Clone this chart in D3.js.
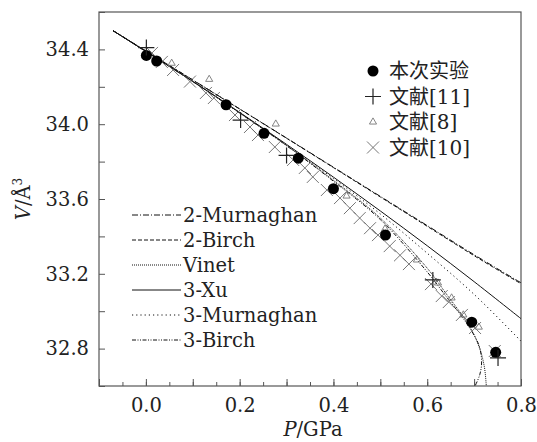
<!DOCTYPE html>
<html>
<head>
<meta charset="utf-8">
<script src="https://cdn.jsdelivr.net/npm/d3@7"></script>
<style>
  body { margin: 0; background: #fff; }
  text { font-family: "DejaVu Serif", "Liberation Serif", serif; fill: #222; }
  .cjk { font-family: "DejaVu Serif", "Noto Sans CJK SC", serif; }
</style>
</head>
<body>
<svg id="chart" width="537" height="442"></svg>
<script>
// tick values
const xTicks = [0.0, 0.2, 0.4, 0.6, 0.8],
    yTicks = [32.8, 33.2, 33.6, 34.0, 34.4];

// 本次实验 (filled circles)
const expP = [0.001, 0.023, 0.171, 0.252, 0.325, 0.400, 0.511, 0.695, 0.746],
    expV = [34.368, 34.338, 34.104, 33.951, 33.818, 33.655, 33.407, 32.941, 32.780];

// 文献[11] (plus)
const ref11P = [0.001, 0.202, 0.300, 0.612, 0.751],
    ref11V = [34.410, 34.022, 33.833, 33.167, 32.750];

// 文献[8] (triangles)
const ref8P = [0.055, 0.135, 0.277, 0.428, 0.510, 0.578, 0.623, 0.652, 0.677, 0.710, 0.749],
    ref8V = [34.326, 34.240, 34.001, 33.616, 33.440, 33.274, 33.151, 33.071, 32.980, 32.915, 32.787];

// 文献[10] (crosses)
const ref10P = [0.013, 0.034, 0.058, 0.094, 0.128, 0.145, 0.190, 0.222, 0.239, 0.275, 0.314, 0.339, 0.356,
        0.386, 0.414, 0.435, 0.456, 0.478, 0.495, 0.520, 0.542, 0.561, 0.608, 0.631, 0.646, 0.674, 0.702, 0.744],
    ref10V = [34.381, 34.333, 34.290, 34.228, 34.167, 34.140, 34.049, 33.985, 33.942, 33.878, 33.809, 33.766, 33.718,
        33.648, 33.605, 33.551, 33.498, 33.444, 33.407, 33.348, 33.299, 33.252, 33.145, 33.081, 33.049, 32.980, 32.910, 32.787];

// fitted curves, points
const murn2P = [-0.07, 0.1, 0.2, 0.3, 0.4, 0.5, 0.6, 0.7, 0.8],
    murn2V = [34.50, 34.237, 34.082, 33.926, 33.770, 33.614, 33.458, 33.302, 33.152];
const birch2P = [-0.07, 0.1, 0.2, 0.3, 0.4, 0.5, 0.6, 0.7, 0.8],
    birch2V = [34.50, 34.236, 34.081, 33.925, 33.768, 33.611, 33.454, 33.297, 33.147];
const vinetP = [-0.07, 0.1, 0.2, 0.3, 0.4, 0.5, 0.6, 0.64, 0.69, 0.712, 0.722, 0.726],
    vinetV = [34.50, 34.228, 34.060, 33.886, 33.700, 33.498, 33.230, 33.095, 32.920, 32.800, 32.700, 32.600];
const xu3P = [-0.07, 0.1, 0.2, 0.3, 0.4, 0.5, 0.6, 0.7, 0.8],
    xu3V = [34.50, 34.229, 34.063, 33.892, 33.717, 33.536, 33.350, 33.158, 32.960];
const murn3P = [-0.07, 0.1, 0.2, 0.3, 0.4, 0.5, 0.6, 0.7, 0.8],
    murn3V = [34.50, 34.229, 34.062, 33.889, 33.710, 33.520, 33.310, 33.090, 32.840];
const birch3P = [-0.07, 0.1, 0.2, 0.3, 0.4, 0.5, 0.6, 0.64, 0.684, 0.71, 0.716, 0.712, 0.702],
    birch3V = [34.50, 34.228, 34.060, 33.885, 33.695, 33.490, 33.210, 33.080, 32.935, 32.820, 32.730, 32.660, 32.600];

const curveNames = ["2-Murnaghan", "2-Birch", "Vinet", "3-Xu", "3-Murnaghan", "3-Birch"];
const curveP = [murn2P, birch2P, vinetP, xu3P, murn3P, birch3P],
    curveV = [murn2V, birch2V, vinetV, xu3V, murn3V, birch3V];
const curveDash = ["6,2,1,2", "4,2", "1,1", null, "1.2,3", "4,1.5,1,1.5,1,1.5"];

const markerNames = ["本次实验", "文献[11]", "文献[8]", "文献[10]"];

const margin = {top: 12, right: 16, bottom: 56, left: 99};
const width = 537, height = 442;

const svg = d3.select("#chart");

const x = d3.scaleLinear().domain([-0.1, 0.8]).range([margin.left, width - margin.right]);
const y = d3.scaleLinear().domain([32.6, 34.6]).range([height - margin.bottom, margin.top]);

svg.append("defs").append("clipPath").attr("id", "clip")
    .append("rect")
    .attr("x", margin.left).attr("y", margin.top)
    .attr("width", x.range()[1] - margin.left)
    .attr("height", y.range()[0] - margin.top);

// frame
svg.append("rect")
    .attr("x", margin.left).attr("y", margin.top)
    .attr("width", x.range()[1] - margin.left)
    .attr("height", y.range()[0] - margin.top)
    .attr("fill", "none").attr("stroke", "#555").attr("stroke-width", 1.2);

// x axis, ticks inward
let xAxis = svg.append("g").attr("transform", `translate(0,${y.range()[0]})`);
xAxis.call(d3.axisBottom(x).tickValues(d3.range(-0.05, 0.8, 0.05)).tickSize(-4).tickFormat(""));
xAxis.call(g => g.select(".domain").remove());
let xMajor = svg.append("g").attr("transform", `translate(0,${y.range()[0]})`);
xMajor.call(d3.axisBottom(x).tickValues(d3.range(-0.1, 0.81, 0.1)).tickSize(-7).tickFormat(""));
xMajor.call(g => g.select(".domain").remove());
let xLabels = svg.append("g").attr("transform", `translate(0,${y.range()[0]})`);
xLabels.call(d3.axisBottom(x).tickValues(xTicks).tickSize(0).tickPadding(12).tickFormat(d3.format(".1f")));
xLabels.call(g => g.select(".domain").remove());

// y axis, ticks inward
let yAxis = svg.append("g").attr("transform", `translate(${margin.left},0)`);
yAxis.call(d3.axisLeft(y).tickValues(d3.range(32.6, 34.61, 0.2)).tickSize(-6).tickFormat(""));
yAxis.call(g => g.select(".domain").remove());
let yLabels = svg.append("g").attr("transform", `translate(${margin.left},0)`);
yLabels.call(d3.axisLeft(y).tickValues(yTicks).tickSize(0).tickPadding(10).tickFormat(d3.format(".1f")));
yLabels.call(g => g.select(".domain").remove());
svg.selectAll(".tick line").attr("stroke", "#555");
svg.selectAll(".tick text").attr("font-size", 19.5).attr("fill", "#222")
    .style("font-family", "'DejaVu Serif', serif");

// titles
let xt = svg.append("text").attr("x", 313).attr("y", 436).attr("text-anchor", "middle").attr("font-size", 19.5);
xt.append("tspan").attr("font-style", "italic").text("P");
xt.append("tspan").text("/GPa");

let yt = svg.append("text").attr("transform", "translate(30,199) rotate(-90)")
    .attr("text-anchor", "middle").attr("font-size", 19.5);
yt.append("tspan").attr("font-style", "italic").text("V");
yt.append("tspan").text("/Å");
yt.append("tspan").attr("dy", -8).attr("font-size", 12).text("3");

// curves
const line = d3.line().curve(d3.curveCatmullRom).x(d => x(d[0])).y(d => y(d[1]));
let curves = svg.append("g").attr("clip-path", "url(#clip)");
curveNames.forEach((name, i) => {
    curves.append("path")
        .datum(curveP[i].map((p, j) => [p, curveV[i][j]]))
        .attr("d", line)
        .attr("fill", "none")
        .attr("stroke", "#111")
        .attr("stroke-width", 1)
        .attr("stroke-dasharray", curveDash[i]);
});

// marker drawers
function drawCircle(g, cx, cy) {
    g.append("circle").attr("cx", cx).attr("cy", cy).attr("r", 5.5).attr("fill", "#000");
}
function drawPlus(g, cx, cy) {
    g.append("path").attr("d", `M${cx - 8},${cy}H${cx + 8}M${cx},${cy - 8}V${cy + 8}`)
        .attr("stroke", "#222").attr("stroke-width", 1.2);
}
function drawTri(g, cx, cy) {
    g.append("path").attr("d", d3.symbol(d3.symbolTriangle, 22)())
        .attr("transform", `translate(${cx},${cy})`)
        .attr("fill", "none").attr("stroke", "#777").attr("stroke-width", 0.9);
}
function drawCross(g, cx, cy) {
    g.append("path").attr("d", `M${cx - 6},${cy - 6}L${cx + 6},${cy + 6}M${cx - 6},${cy + 6}L${cx + 6},${cy - 6}`)
        .attr("stroke", "#666").attr("stroke-width", 0.9);
}

let marks = svg.append("g");
ref10P.forEach((p, i) => drawCross(marks, x(p), y(ref10V[i])));
ref8P.forEach((p, i) => drawTri(marks, x(p), y(ref8V[i])));
expP.forEach((p, i) => drawCircle(marks, x(p), y(expV[i])));
ref11P.forEach((p, i) => drawPlus(marks, x(p), y(ref11V[i])));

// marker legend
const drawers = [drawCircle, drawPlus, drawTri, drawCross];
let legend1 = svg.append("g");
markerNames.forEach((name, i) => {
    let ly = 71 + i * 25.5;
    drawers[i](legend1, 373, ly);
    legend1.append("text").attr("class", "cjk").attr("x", 389).attr("y", ly + 7)
        .attr("font-size", 20).text(name);
});

// curve legend
let legend2 = svg.append("g");
curveNames.forEach((name, i) => {
    let ly = 215 + i * 25;
    legend2.append("line").attr("x1", 132).attr("x2", 181).attr("y1", ly).attr("y2", ly)
        .attr("stroke", "#111").attr("stroke-width", 1).attr("stroke-dasharray", curveDash[i]);
    legend2.append("text").attr("x", 183).attr("y", ly + 7).attr("font-size", 19.5).text(name);
});
</script>
</body>
</html>
